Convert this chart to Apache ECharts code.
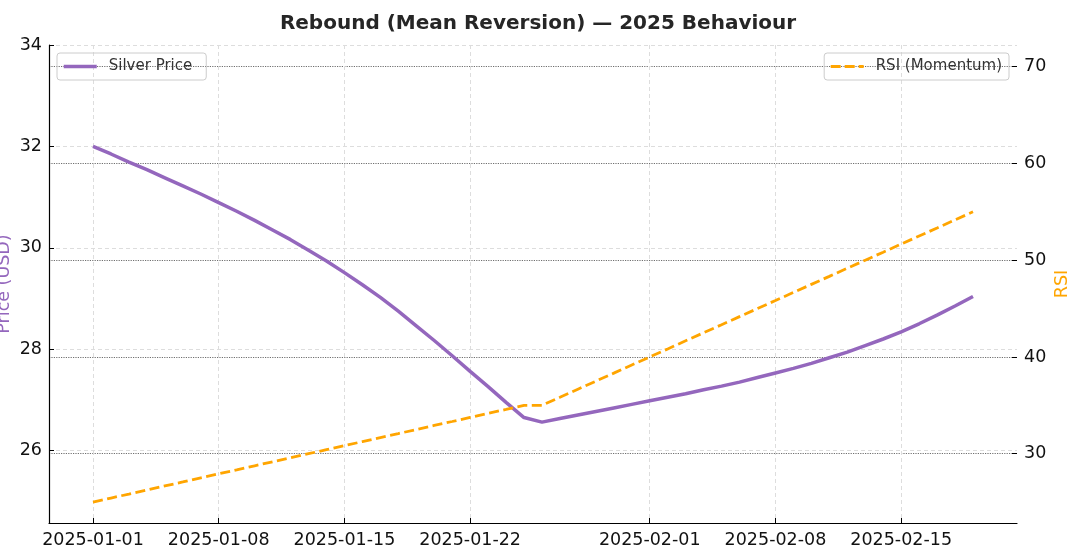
<!DOCTYPE html>
<html>
<head>
<meta charset="utf-8">
<script src="https://cdn.jsdelivr.net/npm/echarts@6/dist/echarts.min.js"></script>
<style>
  html, body { margin: 0; padding: 0; background: #fff; }
  #chart { width: 1080px; height: 558px; }
</style>
</head>
<body>
<div id="chart"></div>
<script>
// daily dates, 2025-01-01 onward (50 days)
var startDate = "2025-01-01";
var dayCount = 50;

// silver price (USD)
var price = [
  32.00, 31.85, 31.69, 31.54, 31.38, 31.22, 31.06, 30.89, 30.72, 30.54,
  30.35, 30.16, 29.95, 29.74, 29.51, 29.27, 29.02, 28.75, 28.46, 28.17,
  27.87, 27.56, 27.26, 26.95, 26.65, 26.56, 26.63, 26.70, 26.77, 26.84,
  26.91, 26.98, 27.05, 27.12, 27.20, 27.27, 27.35, 27.44, 27.53, 27.62,
  27.72, 27.83, 27.94, 28.07, 28.20, 28.34, 28.50, 28.67, 28.85, 29.04
];

// RSI (momentum)
var rsi = [
  25.00, 25.42, 25.83, 26.25, 26.67, 27.08, 27.50, 27.92, 28.33, 28.75,
  29.17, 29.58, 30.00, 30.42, 30.83, 31.25, 31.67, 32.08, 32.50, 32.92,
  33.33, 33.75, 34.17, 34.58, 35.00, 35.00, 35.83, 36.67, 37.50, 38.33,
  39.17, 40.00, 40.83, 41.67, 42.50, 43.33, 44.17, 45.00, 45.83, 46.67,
  47.50, 48.33, 49.17, 50.00, 50.83, 51.67, 52.50, 53.33, 54.17, 55.00
];

// tick labels
var dateTicks = ["2025-01-01", "2025-01-08", "2025-01-15", "2025-01-22", "2025-02-01", "2025-02-08", "2025-02-15"];
var priceTicks = [26, 28, 30, 32, 34];
var rsiTicks = [30, 40, 50, 60, 70];

// x axis is in days since startDate
var DAY = 86400000;
var t0 = Date.parse(startDate);
function dayOf(d) { return (Date.parse(d) - t0) / DAY; }
function dateOf(day) { return new Date(t0 + Math.round(day) * DAY).toISOString().slice(0, 10); }

var days = [];
for (var i = 0; i < dayCount; i++) days.push(i);
var span = days[days.length - 1] - days[0];
var dayTicks = dateTicks.map(dayOf);

var priceData = days.map(function (d, i) { return [d, price[i]]; });
var rsiData = days.map(function (d, i) { return [d, rsi[i]]; });

var font = "DejaVu Sans";
var chart = echarts.init(document.getElementById("chart"));

var legendBase = {
  top: 53,
  itemWidth: 33, itemHeight: 14,
  borderColor: "#cccccc", borderWidth: 1, borderRadius: 3,
  itemStyle: { opacity: 0 },
  textStyle: { fontFamily: font, fontSize: 15, color: "#333", padding: [0, 0, 0, 7] }
};

var option = {
  backgroundColor: "#fff",
  animation: false,
  title: {
    text: "Rebound (Mean Reversion) — 2025 Behaviour",
    left: 533,
    textAlign: "center",
    top: 9,
    textStyle: { fontFamily: font, fontSize: 20, fontWeight: "bold", color: "#262626" }
  },
  grid: { left: 49, right: 63, top: 45, bottom: 35, outerBoundsMode: "none" },
  legend: [
    Object.assign({}, legendBase, {
      data: ["Silver Price"],
      left: 57,
      padding: [6, 14, 6, 5],
      lineStyle: { width: 3.5 }
    }),
    Object.assign({}, legendBase, {
      data: ["RSI (Momentum)"],
      right: 71,
      padding: [6, 7, 6, 5],
      lineStyle: { width: 3, type: [10, 4] }
    })
  ],
  xAxis: {
    type: "value",
    min: days[0] - span * 0.05,
    max: days[days.length - 1] + span * 0.05,
    axisLine: { onZero: false, lineStyle: { color: "#000", width: 1.2 } },
    axisTick: { inside: true, length: 5, customValues: dayTicks, lineStyle: { color: "#000" } },
    axisLabel: {
      customValues: dayTicks,
      formatter: function (v) { return dateOf(v); },
      fontFamily: font, fontSize: 17.5, color: "#111", margin: 8
    },
    splitLine: { show: true, lineStyle: { color: "#dddddd", type: [4, 3], width: 1 } }
  },
  yAxis: [
    {
      type: "value",
      min: 24.57, max: 34,
      name: "Price (USD)",
      nameLocation: "middle",
      nameGap: 36,
      nameMoveOverlap: false,
      nameTextStyle: { fontFamily: font, fontSize: 17.5, color: "#9467bd" },
      axisLine: { show: true, onZero: false, lineStyle: { color: "#000", width: 1.2 } },
      axisTick: { show: true, inside: true, length: 5, customValues: priceTicks, lineStyle: { color: "#000" } },
      axisLabel: { customValues: priceTicks, fontFamily: font, fontSize: 17.5, color: "#111", margin: 7 },
      splitLine: { show: true, lineStyle: { color: "#dddddd", type: [4, 3], width: 1 } }
    },
    {
      type: "value",
      min: 22.84, max: 72.24,
      name: "RSI",
      nameLocation: "middle",
      nameGap: 36,
      nameMoveOverlap: false,
      nameTextStyle: { fontFamily: font, fontSize: 17.5, color: "#ffa500" },
      axisLine: { show: false, onZero: false },
      axisTick: { show: true, inside: true, length: 5, customValues: rsiTicks, lineStyle: { color: "#000" } },
      axisLabel: { customValues: rsiTicks, fontFamily: font, fontSize: 17.5, color: "#111", margin: 7 },
      splitLine: { show: true, lineStyle: { color: "#6f6f6f", type: "dotted", width: 1.2 } }
    }
  ],
  series: [
    {
      name: "Silver Price",
      type: "line",
      yAxisIndex: 0,
      data: priceData,
      symbol: "none",
      lineStyle: { color: "#9467bd", width: 3.5 },
      itemStyle: { color: "#9467bd" },
      z: 3
    },
    {
      name: "RSI (Momentum)",
      type: "line",
      yAxisIndex: 1,
      data: rsiData,
      symbol: "none",
      lineStyle: { color: "#ffa500", width: 2.8, type: [10, 4.5] },
      itemStyle: { color: "#ffa500" },
      z: 4
    }
  ]
};

chart.setOption(option);
</script>
</body>
</html>
